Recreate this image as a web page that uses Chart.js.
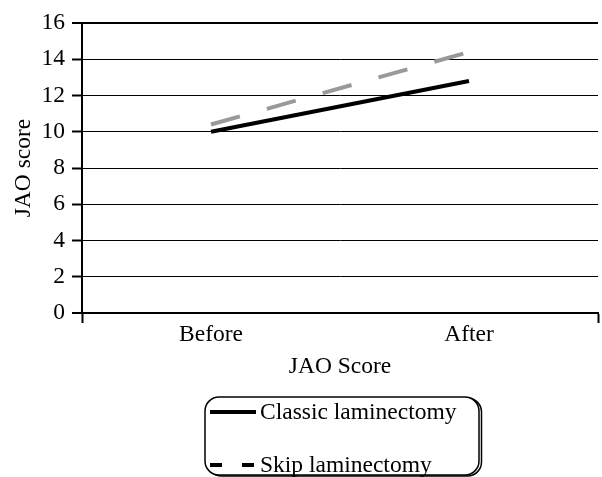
<!DOCTYPE html>
<html>
<head>
<meta charset="utf-8">
<script src="https://cdn.jsdelivr.net/npm/chart.js@4/dist/chart.umd.min.js"></script>
<style>
  html, body { margin: 0; padding: 0; background: #fff; }
  #wrap { width: 602px; height: 477px; position: relative; }
</style>
</head>
<body>
<div id="wrap"><canvas id="c" width="602" height="477"></canvas></div>
<script>
const categories = ["Before", "After"];
const seriesNames = ["Classic laminectomy", "Skip laminectomy"];
const classicValues = [10.0, 12.8];
const skipValues = [10.4, 14.4];
const yTicks = [0, 2, 4, 6, 8, 10, 12, 14, 16];
const xTitle = "JAO Score";
const yTitle = "JAO score";

const FONT = "'Liberation Serif', 'Times New Roman', serif";
const FS = 23.5;

const legendPlugin = {
  id: 'boxLegend',
  afterDraw(chart) {
    const ctx = chart.ctx;
    const x = 205, y = 397, w = 274, h = 78, r = 14;
    ctx.save();
    ctx.strokeStyle = '#000';
    ctx.lineWidth = 1.5;
    ctx.beginPath();
    ctx.roundRect(x + 2.5, y + 1, w, h, r);
    ctx.stroke();
    ctx.fillStyle = '#fff';
    ctx.beginPath();
    ctx.roundRect(x, y, w, h, r);
    ctx.fill();
    ctx.stroke();
    const items = chart.data.datasets;
    const rowsY = [412, 465];
    items.forEach((ds, i) => {
      const yy = rowsY[i];
      ctx.strokeStyle = '#000';
      ctx.lineWidth = 4;
      ctx.setLineDash(i === 0 ? [] : [12, 20]);
      ctx.beginPath();
      ctx.moveTo(210, yy);
      ctx.lineTo(256, yy);
      ctx.stroke();
      ctx.setLineDash([]);
      ctx.fillStyle = '#000';
      ctx.font = FS + 'px ' + FONT;
      ctx.textBaseline = 'middle';
      ctx.textAlign = 'left';
      ctx.fillText(ds.label, 260, yy + 1);
    });
    ctx.restore();
  }
};

new Chart(document.getElementById('c'), {
  type: 'line',
  data: {
    labels: categories,
    datasets: [
      {
        label: seriesNames[0],
        data: classicValues,
        borderColor: '#000',
        borderWidth: 4,
        pointRadius: 0,
        tension: 0
      },
      {
        label: seriesNames[1],
        data: skipValues,
        borderColor: '#999999',
        borderWidth: 4,
        borderDash: [30, 28],
        pointRadius: 0,
        tension: 0
      }
    ]
  },
  options: {
    responsive: false,
    animation: false,
    layout: { padding: { top: 23, right: 4, bottom: 92, left: 0 } },
    plugins: {
      legend: { display: false },
      tooltip: { enabled: false }
    },
    scales: {
      x: {
        offset: true,
        afterFit(scale) { scale.height = 72; },
        grid: {
          offset: true,
          drawOnChartArea: false,
          drawTicks: true,
          tickLength: 10,
          tickWidth: 2,
          tickColor: (c) => (c.index === 1 ? 'rgba(0,0,0,0)' : '#000')
        },
        border: { display: true, color: '#000', width: 2 },
        ticks: {
          color: '#000',
          padding: -2,
          font: { family: FONT, size: FS }
        },
        title: {
          display: true,
          text: xTitle,
          color: '#000',
          padding: { top: 0, bottom: 4 },
          font: { family: FONT, size: FS }
        }
      },
      y: {
        min: 0,
        max: 16,
        afterFit(scale) { scale.width = 82; },
        afterBuildTicks(scale) { scale.ticks = yTicks.map(v => ({ value: v })); },
        grid: {
          color: '#000',
          lineWidth: (c) => (c.tick && (c.tick.value === 16 || c.tick.value === 0) ? 2 : 1),
          drawTicks: true,
          tickLength: 10,
          tickWidth: 2,
          tickColor: '#000'
        },
        border: { display: true, color: '#000', width: 2 },
        ticks: {
          color: '#000',
          padding: 7,
          font: { family: FONT, size: FS }
        },
        title: {
          display: true,
          text: yTitle,
          color: '#000',
          padding: { top: 10, bottom: 0 },
          font: { family: FONT, size: FS }
        }
      }
    }
  },
  plugins: [legendPlugin]
});
</script>
</body>
</html>
